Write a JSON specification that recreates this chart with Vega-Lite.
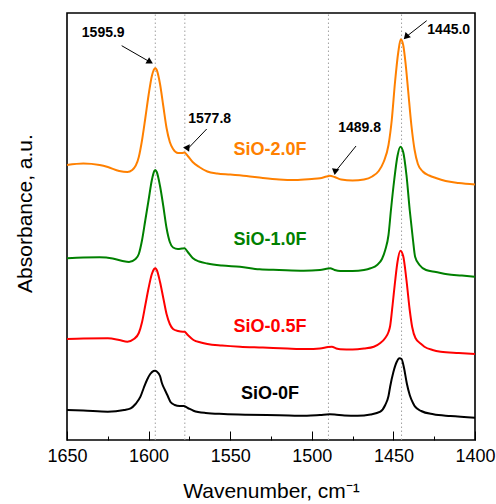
{
  "$schema": "https://vega.github.io/schema/vega-lite/v6.json",
  "width": 408,
  "height": 427,
  "autosize": {"type": "none"},
  "padding": {"left": 67, "top": 13, "right": 21, "bottom": 64},
  "background": "white",
  "config": {
    "view": {"stroke": "#000000", "strokeWidth": 1.6},
    "font": "Liberation Sans",
    "axis": {"labelFont": "Liberation Sans", "titleFont": "Liberation Sans", "titleFontWeight": "normal", "grid": false}
  },
  "datasets": {
    "spectra": [
      {"s":"SiO-2.0F","w":1650,"a":275},{"s":"SiO-2.0F","w":1640,"a":276.5},{"s":"SiO-2.0F","w":1630,"a":275},{"s":"SiO-2.0F","w":1625,"a":273},{"s":"SiO-2.0F","w":1618,"a":269},{"s":"SiO-2.0F","w":1613,"a":268},{"s":"SiO-2.0F","w":1610,"a":270},{"s":"SiO-2.0F","w":1606,"a":283},{"s":"SiO-2.0F","w":1604,"a":300},{"s":"SiO-2.0F","w":1602,"a":322},{"s":"SiO-2.0F","w":1600,"a":345},{"s":"SiO-2.0F","w":1598,"a":364},{"s":"SiO-2.0F","w":1596.5,"a":371},{"s":"SiO-2.0F","w":1595.9,"a":371.7},{"s":"SiO-2.0F","w":1595,"a":370},{"s":"SiO-2.0F","w":1593,"a":356},{"s":"SiO-2.0F","w":1591,"a":334},{"s":"SiO-2.0F","w":1589,"a":312},{"s":"SiO-2.0F","w":1587,"a":298},{"s":"SiO-2.0F","w":1585,"a":291},{"s":"SiO-2.0F","w":1582,"a":287},{"s":"SiO-2.0F","w":1579.5,"a":287},{"s":"SiO-2.0F","w":1578,"a":287.5},{"s":"SiO-2.0F","w":1576,"a":284},{"s":"SiO-2.0F","w":1573,"a":278},{"s":"SiO-2.0F","w":1569,"a":273},{"s":"SiO-2.0F","w":1564,"a":268.5},{"s":"SiO-2.0F","w":1558,"a":266.5},{"s":"SiO-2.0F","w":1550,"a":265.5},{"s":"SiO-2.0F","w":1540,"a":264},{"s":"SiO-2.0F","w":1530,"a":262},{"s":"SiO-2.0F","w":1520,"a":260.5},{"s":"SiO-2.0F","w":1510,"a":260},{"s":"SiO-2.0F","w":1500,"a":261},{"s":"SiO-2.0F","w":1495,"a":261.7},{"s":"SiO-2.0F","w":1491,"a":263.5},{"s":"SiO-2.0F","w":1489,"a":264.3},{"s":"SiO-2.0F","w":1486,"a":263},{"s":"SiO-2.0F","w":1482,"a":260.5},{"s":"SiO-2.0F","w":1475,"a":259.5},{"s":"SiO-2.0F","w":1468,"a":260.5},{"s":"SiO-2.0F","w":1463,"a":263.5},{"s":"SiO-2.0F","w":1459,"a":269},{"s":"SiO-2.0F","w":1456,"a":278},{"s":"SiO-2.0F","w":1453,"a":295},{"s":"SiO-2.0F","w":1451,"a":320},{"s":"SiO-2.0F","w":1449,"a":358},{"s":"SiO-2.0F","w":1447,"a":388},{"s":"SiO-2.0F","w":1445.5,"a":400.7},{"s":"SiO-2.0F","w":1444,"a":395},{"s":"SiO-2.0F","w":1442.5,"a":376},{"s":"SiO-2.0F","w":1441,"a":350},{"s":"SiO-2.0F","w":1439,"a":315},{"s":"SiO-2.0F","w":1437,"a":290},{"s":"SiO-2.0F","w":1435,"a":276},{"s":"SiO-2.0F","w":1432,"a":268.5},{"s":"SiO-2.0F","w":1428,"a":264.5},{"s":"SiO-2.0F","w":1424,"a":262},{"s":"SiO-2.0F","w":1418,"a":259},{"s":"SiO-2.0F","w":1410,"a":257},{"s":"SiO-2.0F","w":1400,"a":255.5},

      {"s":"SiO-1.0F","w":1650,"a":181.7},{"s":"SiO-1.0F","w":1640,"a":182.5},{"s":"SiO-1.0F","w":1630,"a":182.7},{"s":"SiO-1.0F","w":1622,"a":181.5},{"s":"SiO-1.0F","w":1616,"a":179},{"s":"SiO-1.0F","w":1612,"a":178},{"s":"SiO-1.0F","w":1608,"a":181},{"s":"SiO-1.0F","w":1606,"a":186},{"s":"SiO-1.0F","w":1604,"a":200},{"s":"SiO-1.0F","w":1602,"a":220},{"s":"SiO-1.0F","w":1600,"a":240},{"s":"SiO-1.0F","w":1598,"a":260},{"s":"SiO-1.0F","w":1596.5,"a":269},{"s":"SiO-1.0F","w":1595.9,"a":270},{"s":"SiO-1.0F","w":1595,"a":268},{"s":"SiO-1.0F","w":1593,"a":254},{"s":"SiO-1.0F","w":1591,"a":234},{"s":"SiO-1.0F","w":1589,"a":212},{"s":"SiO-1.0F","w":1587,"a":198},{"s":"SiO-1.0F","w":1585,"a":192.5},{"s":"SiO-1.0F","w":1582,"a":191},{"s":"SiO-1.0F","w":1579.5,"a":191.5},{"s":"SiO-1.0F","w":1578,"a":191.7},{"s":"SiO-1.0F","w":1576,"a":188},{"s":"SiO-1.0F","w":1573,"a":182},{"s":"SiO-1.0F","w":1569,"a":178.5},{"s":"SiO-1.0F","w":1564,"a":176.5},{"s":"SiO-1.0F","w":1555,"a":174.5},{"s":"SiO-1.0F","w":1544,"a":173.3},{"s":"SiO-1.0F","w":1532,"a":170.7},{"s":"SiO-1.0F","w":1520,"a":170},{"s":"SiO-1.0F","w":1505,"a":169.3},{"s":"SiO-1.0F","w":1495,"a":170},{"s":"SiO-1.0F","w":1490,"a":171.5},{"s":"SiO-1.0F","w":1488.8,"a":171.7},{"s":"SiO-1.0F","w":1486,"a":170},{"s":"SiO-1.0F","w":1482.6,"a":169},{"s":"SiO-1.0F","w":1475,"a":169},{"s":"SiO-1.0F","w":1468,"a":170},{"s":"SiO-1.0F","w":1464,"a":171.7},{"s":"SiO-1.0F","w":1460,"a":175},{"s":"SiO-1.0F","w":1457,"a":181},{"s":"SiO-1.0F","w":1455,"a":190},{"s":"SiO-1.0F","w":1453,"a":205},{"s":"SiO-1.0F","w":1451.5,"a":230},{"s":"SiO-1.0F","w":1449.5,"a":260},{"s":"SiO-1.0F","w":1447.5,"a":284},{"s":"SiO-1.0F","w":1445.7,"a":293.3},{"s":"SiO-1.0F","w":1444,"a":288},{"s":"SiO-1.0F","w":1442,"a":265},{"s":"SiO-1.0F","w":1440,"a":230},{"s":"SiO-1.0F","w":1438,"a":200},{"s":"SiO-1.0F","w":1436.7,"a":183.3},{"s":"SiO-1.0F","w":1434,"a":175},{"s":"SiO-1.0F","w":1430,"a":170},{"s":"SiO-1.0F","w":1424,"a":168},{"s":"SiO-1.0F","w":1417,"a":165.7},{"s":"SiO-1.0F","w":1408,"a":164.5},{"s":"SiO-1.0F","w":1400,"a":163.3},

      {"s":"SiO-0.5F","w":1650,"a":101},{"s":"SiO-0.5F","w":1640,"a":101.5},{"s":"SiO-0.5F","w":1625,"a":101.7},{"s":"SiO-0.5F","w":1618,"a":100},{"s":"SiO-0.5F","w":1613,"a":98.3},{"s":"SiO-0.5F","w":1609,"a":101},{"s":"SiO-0.5F","w":1606,"a":107},{"s":"SiO-0.5F","w":1604,"a":118},{"s":"SiO-0.5F","w":1602,"a":135},{"s":"SiO-0.5F","w":1600,"a":152},{"s":"SiO-0.5F","w":1598,"a":166},{"s":"SiO-0.5F","w":1596.5,"a":171.2},{"s":"SiO-0.5F","w":1595.9,"a":171.7},{"s":"SiO-0.5F","w":1595,"a":170},{"s":"SiO-0.5F","w":1593,"a":158},{"s":"SiO-0.5F","w":1591,"a":142},{"s":"SiO-0.5F","w":1589,"a":126},{"s":"SiO-0.5F","w":1587,"a":116},{"s":"SiO-0.5F","w":1585,"a":111},{"s":"SiO-0.5F","w":1582,"a":109},{"s":"SiO-0.5F","w":1579,"a":108.3},{"s":"SiO-0.5F","w":1578,"a":108.3},{"s":"SiO-0.5F","w":1576,"a":105},{"s":"SiO-0.5F","w":1572.5,"a":100},{"s":"SiO-0.5F","w":1568,"a":97.5},{"s":"SiO-0.5F","w":1564,"a":96},{"s":"SiO-0.5F","w":1555,"a":94.5},{"s":"SiO-0.5F","w":1544,"a":93.3},{"s":"SiO-0.5F","w":1530,"a":92.5},{"s":"SiO-0.5F","w":1515,"a":91.5},{"s":"SiO-0.5F","w":1503,"a":91},{"s":"SiO-0.5F","w":1495,"a":91.5},{"s":"SiO-0.5F","w":1490,"a":93},{"s":"SiO-0.5F","w":1487.7,"a":93.3},{"s":"SiO-0.5F","w":1485,"a":91.5},{"s":"SiO-0.5F","w":1482.6,"a":90.7},{"s":"SiO-0.5F","w":1475,"a":90.5},{"s":"SiO-0.5F","w":1468,"a":91.5},{"s":"SiO-0.5F","w":1462,"a":93.3},{"s":"SiO-0.5F","w":1458,"a":97},{"s":"SiO-0.5F","w":1455,"a":102},{"s":"SiO-0.5F","w":1453,"a":108},{"s":"SiO-0.5F","w":1452,"a":114},{"s":"SiO-0.5F","w":1450.5,"a":135},{"s":"SiO-0.5F","w":1449,"a":158},{"s":"SiO-0.5F","w":1447.5,"a":178},{"s":"SiO-0.5F","w":1445.7,"a":189.3},{"s":"SiO-0.5F","w":1444,"a":184},{"s":"SiO-0.5F","w":1442,"a":160},{"s":"SiO-0.5F","w":1440,"a":130},{"s":"SiO-0.5F","w":1438.5,"a":113},{"s":"SiO-0.5F","w":1436.5,"a":102},{"s":"SiO-0.5F","w":1433,"a":96},{"s":"SiO-0.5F","w":1431,"a":93.3},{"s":"SiO-0.5F","w":1426,"a":90},{"s":"SiO-0.5F","w":1421,"a":88.3},{"s":"SiO-0.5F","w":1410,"a":87},{"s":"SiO-0.5F","w":1400,"a":86},

      {"s":"SiO-0F","w":1650,"a":30},{"s":"SiO-0F","w":1640,"a":29.5},{"s":"SiO-0F","w":1625,"a":28.3},{"s":"SiO-0F","w":1615,"a":30},{"s":"SiO-0F","w":1611,"a":31.7},{"s":"SiO-0F","w":1608,"a":36},{"s":"SiO-0F","w":1605,"a":43.3},{"s":"SiO-0F","w":1603,"a":52},{"s":"SiO-0F","w":1601,"a":60},{"s":"SiO-0F","w":1599,"a":66},{"s":"SiO-0F","w":1597,"a":69},{"s":"SiO-0F","w":1596,"a":69.3},{"s":"SiO-0F","w":1595,"a":68.5},{"s":"SiO-0F","w":1593,"a":64},{"s":"SiO-0F","w":1591.8,"a":56.7},{"s":"SiO-0F","w":1590,"a":50},{"s":"SiO-0F","w":1588,"a":43},{"s":"SiO-0F","w":1586.7,"a":38.3},{"s":"SiO-0F","w":1584,"a":35},{"s":"SiO-0F","w":1581,"a":34},{"s":"SiO-0F","w":1578.6,"a":34},{"s":"SiO-0F","w":1576,"a":32},{"s":"SiO-0F","w":1572.5,"a":29.3},{"s":"SiO-0F","w":1565,"a":27},{"s":"SiO-0F","w":1554,"a":26},{"s":"SiO-0F","w":1540,"a":25.3},{"s":"SiO-0F","w":1520,"a":24.8},{"s":"SiO-0F","w":1503,"a":24.3},{"s":"SiO-0F","w":1495,"a":25},{"s":"SiO-0F","w":1489,"a":25.7},{"s":"SiO-0F","w":1486,"a":25.5},{"s":"SiO-0F","w":1480,"a":24.5},{"s":"SiO-0F","w":1472,"a":24.3},{"s":"SiO-0F","w":1464,"a":25.5},{"s":"SiO-0F","w":1458,"a":28.3},{"s":"SiO-0F","w":1455,"a":35},{"s":"SiO-0F","w":1453,"a":44},{"s":"SiO-0F","w":1452,"a":53.3},{"s":"SiO-0F","w":1450,"a":68},{"s":"SiO-0F","w":1448,"a":78},{"s":"SiO-0F","w":1446.3,"a":81.7},{"s":"SiO-0F","w":1445,"a":81},{"s":"SiO-0F","w":1443.5,"a":72},{"s":"SiO-0F","w":1441.8,"a":56.7},{"s":"SiO-0F","w":1440,"a":45},{"s":"SiO-0F","w":1438,"a":37},{"s":"SiO-0F","w":1436.7,"a":33.3},{"s":"SiO-0F","w":1433,"a":29},{"s":"SiO-0F","w":1425.5,"a":25.7},{"s":"SiO-0F","w":1415,"a":24},{"s":"SiO-0F","w":1400,"a":22.3}
    ],
    "peaks": [
      {"peak":"1595.9","w":1595.9,"tw":1627.8,"ta":407,"sw":1616.5,"sa":394.3,"hw":1599.1,"ha":378},
      {"peak":"1577.8","w":1577.8,"tw":1562.6,"ta":321.3,"sw":1564.4,"sa":311,"hw":1576,"ha":291.2},
      {"peak":"1489.8","w":1489.8,"tw":1470.7,"ta":312,"sw":1472.9,"sa":294,"hw":1485.7,"ha":268.1},
      {"peak":"1445.0","w":1445.0,"tw":1416.1,"ta":410.5,"sw":1429.6,"sa":419.3,"hw":1442.3,"ha":403.1}
    ],
    "series": [
      {"s":"SiO-2.0F","w":1525.6,"a":290},
      {"s":"SiO-1.0F","w":1525.6,"a":200},
      {"s":"SiO-0.5F","w":1525.6,"a":113},
      {"s":"SiO-0F","w":1525.6,"a":46}
    ]
  },
  "resolve": {"axis": {"x": "independent", "y": "independent"}},
  "layer": [
    {
      "data": {"name": "peaks"},
      "mark": {"type": "rule", "color": "#a0a0a0", "strokeWidth": 1, "strokeDash": [1.5, 2.5]},
      "encoding": {
        "x": {"field": "w", "type": "quantitative", "scale": {"domain": [1650, 1400], "nice": false, "zero": false},
              "axis": {"orient": "bottom", "values": [1625, 1575, 1525, 1475, 1425], "labels": false, "tickSize": -4, "tickColor": "#000000", "tickWidth": 1, "domain": false, "title": null, "grid": false}},
        "y": {"datum": 0, "type": "quantitative", "scale": {"domain": [0, 427], "nice": false, "zero": false}, "axis": null},
        "y2": {"datum": 427}
      }
    },
    {
      "data": {"name": "spectra"},
      "mark": {"type": "line", "strokeWidth": 2, "interpolate": "monotone"},
      "encoding": {
        "x": {"field": "w", "type": "quantitative", "scale": {"domain": [1650, 1400], "nice": false, "zero": false},
              "axis": {"orient": "bottom", "values": [1650, 1600, 1550, 1500, 1450, 1400], "format": "d", "tickSize": -9, "tickColor": "#000000", "tickWidth": 1, "domain": false,
                       "labelFontSize": 18, "labelColor": "#000000", "labelPadding": 16, "labelFlush": false, "labelOverlap": false,
                       "title": "Wavenumber, cm⁻¹", "titleFontSize": 21, "titleColor": "#000000", "titlePadding": 15}},
        "y": {"field": "a", "type": "quantitative", "scale": {"domain": [0, 427], "nice": false, "zero": false},
              "axis": {"orient": "left", "labels": false, "ticks": false, "domain": false, "title": "Absorbance, a.u.", "titleFontSize": 21, "titleColor": "#000000", "titlePadding": 32, "titleY": 200}},
        "color": {"field": "s", "type": "nominal", "scale": {"domain": ["SiO-2.0F", "SiO-1.0F", "SiO-0.5F", "SiO-0F"], "range": ["#FF8000", "#008000", "#FF0000", "#000000"]}, "legend": null},
        "detail": {"field": "s"}
      }
    },
    {
      "data": {"name": "series"},
      "mark": {"type": "text", "fontSize": 18, "fontWeight": "bold", "align": "center", "baseline": "middle"},
      "encoding": {
        "x": {"field": "w", "type": "quantitative", "axis": null},
        "y": {"field": "a", "type": "quantitative", "axis": null},
        "text": {"field": "s"},
        "color": {"field": "s", "type": "nominal", "scale": {"domain": ["SiO-2.0F", "SiO-1.0F", "SiO-0.5F", "SiO-0F"], "range": ["#FF8000", "#008000", "#FF0000", "#000000"]}, "legend": null}
      }
    },
    {
      "data": {"name": "peaks"},
      "mark": {"type": "text", "fontSize": 14, "fontWeight": "bold", "align": "center", "baseline": "middle", "color": "#000000"},
      "encoding": {
        "x": {"field": "tw", "type": "quantitative", "axis": null},
        "y": {"field": "ta", "type": "quantitative", "axis": null},
        "text": {"field": "peak"}
      }
    },
    {
      "data": {"name": "peaks"},
      "mark": {"type": "rule", "color": "#000000", "strokeWidth": 1},
      "encoding": {
        "x": {"field": "sw", "type": "quantitative", "axis": null},
        "y": {"field": "sa", "type": "quantitative", "axis": null},
        "x2": {"field": "hw"},
        "y2": {"field": "ha"}
      }
    },
    {
      "data": {"name": "peaks"},
      "mark": {"type": "point", "shape": "triangle-right", "filled": true, "color": "#000000", "size": 55, "opacity": 1},
      "encoding": {
        "x": {"field": "hw", "type": "quantitative", "axis": null},
        "y": {"field": "ha", "type": "quantitative", "axis": null},
        "angle": {"field": "peak", "type": "nominal", "scale": {"domain": ["1595.9", "1577.8", "1489.8", "1445.0"], "range": [30, 134, 129, 142]}, "legend": null}
      }
    }
  ]
}
